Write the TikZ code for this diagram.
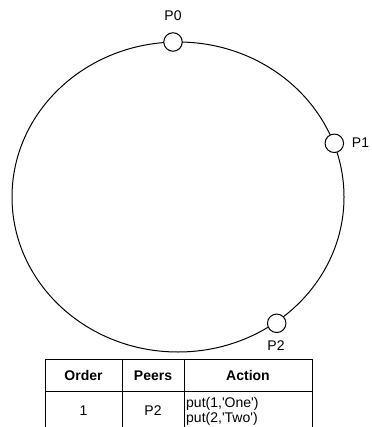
\documentclass[tikz,border=0pt]{standalone}
\usepackage{fontspec}
\setmainfont{Liberation Sans}
\newfontfamily\plainfont{Liberation Sans}
\begin{document}
\begin{tikzpicture}[x=1pt,y=-1pt,
  peer/.style={circle,draw=black,fill=white,line width=1pt,minimum size=18.5pt,inner sep=0pt},
  lbl/.style={font=\fontsize{14}{16}\selectfont,inner sep=0pt},
  hdr/.style={font=\fontsize{14}{16}\selectfont\bfseries,inner sep=0pt},
  cell/.style={font=\fontsize{14}{15.5}\selectfont,inner sep=0pt},
  grid/.style={line width=1pt,draw=black}]
\useasboundingbox (0,0) rectangle (371,427);
\clip (0,0) rectangle (371,427);
% ring
\draw[line width=1pt] (178,197) ellipse [x radius=166, y radius=155];
% peers
\node[peer] (p0) at (173,42) {};
\node[peer] (p1) at (334.3,143.3) {};
\node[peer] (p2) at (276.7,323.3) {};
\node[lbl] (l0) at (173,15.5) {P0};
\node[lbl] (l1) at (360.5,143) {P1};
\node[lbl] (l2) at (276,346) {P2};
% table
\draw[grid] (45,440) -- (45,359) -- (312,359) -- (312,440);
\draw[grid] (122,359) -- (122,440);
\draw[grid] (184,359) -- (184,440);
\draw[grid] (45,391.5) -- (312,391.5);
\node[hdr] (h1) at (83.5,375.5) {Order};
\node[hdr] (h2) at (153,375.5) {Peers};
\node[hdr] (h3) at (248,375.5) {Action};
\node[cell] (c1) at (83.5,411) {1};
\node[cell] (c2) at (153,411) {P2};
\node[cell,anchor=west,align=left,font=\fontsize{14}{15.5}\plainfont] (c3) at (186,411.5) {put(1,'One')\\put(2,'Two')};
\end{tikzpicture}
\end{document}
